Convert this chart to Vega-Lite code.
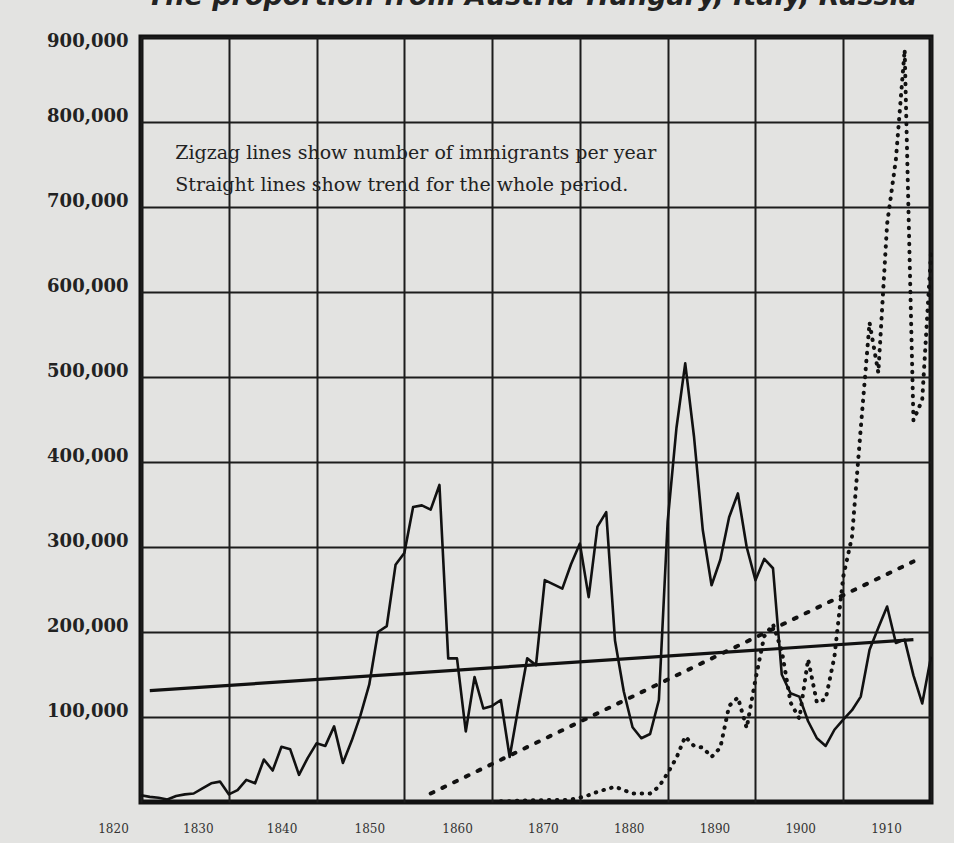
{
  "$schema": "https://vega.github.io/schema/vega-lite/v6.json",
  "width": 790,
  "height": 765,
  "autosize": {"type": "none"},
  "padding": {"left": 141, "top": 37, "right": 23, "bottom": 41},
  "background": "#e3e3e1",
  "title": {
    "text": "The proportion from Austria-Hungary, Italy, Russia",
    "anchor": "end",
    "orient": "top",
    "frame": "group",
    "offset": 0,
    "baseline": "alphabetic",
    "dx": -14,
    "fontSize": 27,
    "font": "DejaVu Sans",
    "fontWeight": "bold",
    "fontStyle": "italic",
    "color": "#222"
  },
  "config": {
    "view": {"fill": "#e3e3e1", "stroke": "#111", "strokeWidth": 5},
    "text": {"font": "DejaVu Serif"}
  },
  "datasets": {
    "nw": [
      {"year": 1820, "value": 8000}, {"year": 1821, "value": 6000}, {"year": 1822, "value": 5000},
      {"year": 1823, "value": 3000}, {"year": 1824, "value": 7000}, {"year": 1825, "value": 9000},
      {"year": 1826, "value": 10000}, {"year": 1827, "value": 16000}, {"year": 1828, "value": 22000},
      {"year": 1829, "value": 24000}, {"year": 1830, "value": 9000}, {"year": 1831, "value": 14000},
      {"year": 1832, "value": 26000}, {"year": 1833, "value": 22000}, {"year": 1834, "value": 50000},
      {"year": 1835, "value": 37000}, {"year": 1836, "value": 65000}, {"year": 1837, "value": 62000},
      {"year": 1838, "value": 32000}, {"year": 1839, "value": 52000}, {"year": 1840, "value": 69000},
      {"year": 1841, "value": 66000}, {"year": 1842, "value": 89000}, {"year": 1843, "value": 46000},
      {"year": 1844, "value": 72000}, {"year": 1845, "value": 102000}, {"year": 1846, "value": 138000},
      {"year": 1847, "value": 200000}, {"year": 1848, "value": 207000}, {"year": 1849, "value": 279000},
      {"year": 1850, "value": 293000}, {"year": 1851, "value": 347000}, {"year": 1852, "value": 349000},
      {"year": 1853, "value": 344000}, {"year": 1854, "value": 373000}, {"year": 1855, "value": 169000},
      {"year": 1856, "value": 169000}, {"year": 1857, "value": 83000}, {"year": 1858, "value": 147000},
      {"year": 1859, "value": 110000}, {"year": 1860, "value": 113000}, {"year": 1861, "value": 120000},
      {"year": 1862, "value": 53000}, {"year": 1863, "value": 112000}, {"year": 1864, "value": 169000},
      {"year": 1865, "value": 161000}, {"year": 1866, "value": 261000}, {"year": 1867, "value": 256000},
      {"year": 1868, "value": 251000}, {"year": 1869, "value": 280000}, {"year": 1870, "value": 304000},
      {"year": 1871, "value": 241000}, {"year": 1872, "value": 324000}, {"year": 1873, "value": 341000},
      {"year": 1874, "value": 190000}, {"year": 1875, "value": 130000}, {"year": 1876, "value": 88000},
      {"year": 1877, "value": 75000}, {"year": 1878, "value": 80000}, {"year": 1879, "value": 120000},
      {"year": 1880, "value": 330000}, {"year": 1881, "value": 440000}, {"year": 1882, "value": 516000},
      {"year": 1883, "value": 430000}, {"year": 1884, "value": 320000}, {"year": 1885, "value": 255000},
      {"year": 1886, "value": 285000}, {"year": 1887, "value": 335000}, {"year": 1888, "value": 363000},
      {"year": 1889, "value": 300000}, {"year": 1890, "value": 261000}, {"year": 1891, "value": 286000},
      {"year": 1892, "value": 275000}, {"year": 1893, "value": 150000}, {"year": 1894, "value": 128000},
      {"year": 1895, "value": 124000}, {"year": 1896, "value": 95000}, {"year": 1897, "value": 75000},
      {"year": 1898, "value": 66000}, {"year": 1899, "value": 85000}, {"year": 1900, "value": 97000},
      {"year": 1901, "value": 108000}, {"year": 1902, "value": 124000}, {"year": 1903, "value": 179000},
      {"year": 1904, "value": 205000}, {"year": 1905, "value": 230000}, {"year": 1906, "value": 187000},
      {"year": 1907, "value": 191000}, {"year": 1908, "value": 149000}, {"year": 1909, "value": 116000},
      {"year": 1910, "value": 171000}
    ],
    "sei": [
      {"year": 1861, "value": 1000}, {"year": 1862, "value": 1000}, {"year": 1863, "value": 1500},
      {"year": 1864, "value": 2000}, {"year": 1865, "value": 2000}, {"year": 1866, "value": 2000},
      {"year": 1867, "value": 2500}, {"year": 1868, "value": 2000}, {"year": 1869, "value": 3000},
      {"year": 1870, "value": 5000}, {"year": 1871, "value": 8000}, {"year": 1872, "value": 12000},
      {"year": 1873, "value": 15000}, {"year": 1874, "value": 18000}, {"year": 1875, "value": 14000},
      {"year": 1876, "value": 10000}, {"year": 1877, "value": 10000}, {"year": 1878, "value": 10000},
      {"year": 1879, "value": 18000}, {"year": 1880, "value": 34000}, {"year": 1881, "value": 52000},
      {"year": 1882, "value": 77000}, {"year": 1883, "value": 66000}, {"year": 1884, "value": 64000},
      {"year": 1885, "value": 53000}, {"year": 1886, "value": 64000}, {"year": 1887, "value": 113000},
      {"year": 1888, "value": 123000}, {"year": 1889, "value": 87000}, {"year": 1890, "value": 144000},
      {"year": 1891, "value": 195000}, {"year": 1892, "value": 209000}, {"year": 1893, "value": 178000},
      {"year": 1894, "value": 117000}, {"year": 1895, "value": 98000}, {"year": 1896, "value": 168000},
      {"year": 1897, "value": 117000}, {"year": 1898, "value": 121000}, {"year": 1899, "value": 171000},
      {"year": 1900, "value": 265000}, {"year": 1901, "value": 312000}, {"year": 1902, "value": 440000},
      {"year": 1903, "value": 564000}, {"year": 1904, "value": 505000}, {"year": 1905, "value": 680000},
      {"year": 1906, "value": 756000}, {"year": 1907, "value": 885000}, {"year": 1908, "value": 449000},
      {"year": 1909, "value": 473000}, {"year": 1910, "value": 646000}
    ],
    "trendNW": [
      {"year": 1821, "value": 131000}, {"year": 1908, "value": 191000}
    ],
    "trendSEI": [
      {"year": 1853, "value": 10000}, {"year": 1908, "value": 283000}
    ],
    "notes": [
      {"year": 1823.9, "value": 764000, "label": "Zigzag lines show number of immigrants per year"},
      {"year": 1823.9, "value": 726000, "label": "Straight lines show trend for the whole period."}
    ]
  },
  "encoding": {
    "x": {
      "field": "year",
      "type": "quantitative",
      "scale": {"domain": [1820, 1910], "nice": false, "zero": false},
      "axis": {
        "title": null,
        "values": [1820, 1830, 1840, 1850, 1860, 1870, 1880, 1890, 1900, 1910],
        "format": "d",
        "grid": true,
        "gridColor": "#1c1c1c",
        "gridWidth": 2,
        "ticks": false,
        "domain": false,
        "labelFlush": false,
        "labelOverlap": false,
        "labelBound": false,
        "labelPadding": 21,
        "labelFont": "DejaVu Serif",
        "labelFontSize": 12,
        "labelColor": "#333",
        "labelOffset": {
          "condition": [
            {"test": "datum.value <= 1820", "value": -28},
            {"test": "datum.value <= 1830", "value": -31},
            {"test": "datum.value <= 1860", "value": -35},
            {"test": "datum.value <= 1870", "value": -37},
            {"test": "datum.value <= 1880", "value": -39},
            {"test": "datum.value <= 1890", "value": -41},
            {"test": "datum.value <= 1900", "value": -43}
          ],
          "value": -45
        }
      }
    },
    "y": {
      "field": "value",
      "type": "quantitative",
      "scale": {"domain": [0, 900000], "nice": false, "zero": true},
      "axis": {
        "title": null,
        "values": [100000, 200000, 300000, 400000, 500000, 600000, 700000, 800000, 900000],
        "format": ",d",
        "grid": true,
        "gridColor": "#1c1c1c",
        "gridWidth": 2,
        "ticks": false,
        "domain": false,
        "labelFlush": false,
        "labelOverlap": false,
        "labelBound": false,
        "labelPadding": 13,
        "labelFont": "DejaVu Serif",
        "labelFontWeight": "bold",
        "labelFontSize": 18,
        "labelColor": "#222",
        "labelOffset": {
          "condition": {"test": "datum.value >= 900000", "value": 4},
          "value": -6
        }
      }
    }
  },
  "layer": [
    {
      "data": {"name": "trendNW"},
      "mark": {"type": "line", "color": "#111", "strokeWidth": 3.2}
    },
    {
      "data": {"name": "trendSEI"},
      "mark": {"type": "line", "color": "#111", "strokeWidth": 4, "strokeDash": [3, 10], "strokeCap": "round"}
    },
    {
      "data": {"name": "sei"},
      "mark": {"type": "line", "color": "#111", "strokeWidth": 4, "strokeDash": [0.5, 7.5], "strokeCap": "round"}
    },
    {
      "data": {"name": "nw"},
      "mark": {"type": "line", "color": "#111", "strokeWidth": 2.6, "strokeJoin": "round"}
    },
    {
      "data": {"name": "notes"},
      "mark": {"type": "text", "align": "left", "baseline": "middle", "font": "DejaVu Serif", "fontSize": 19, "color": "#222"},
      "encoding": {"text": {"field": "label"}}
    }
  ]
}
